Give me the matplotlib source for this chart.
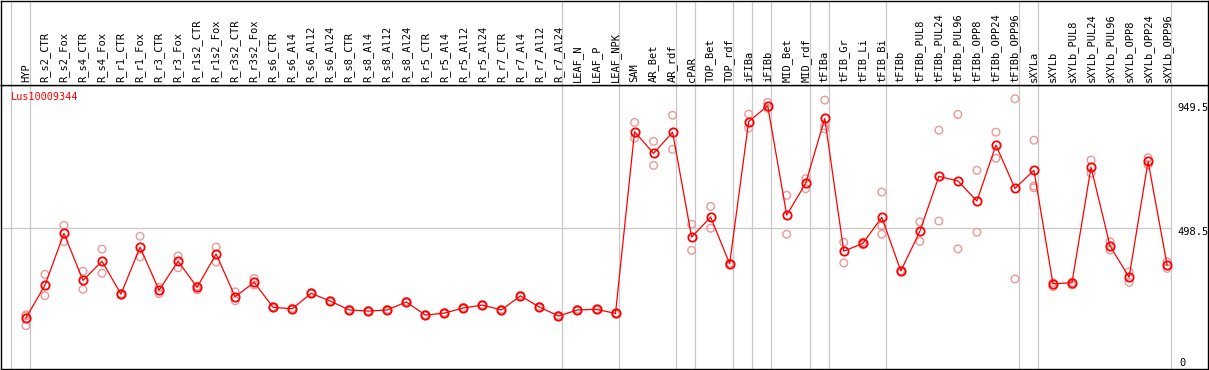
import numpy as np
import matplotlib
matplotlib.use("Agg")
import matplotlib.pyplot as plt

# column groups (a gray rule separates each group)
groups = [
    ["HYP"],
    ["R_s2_CTR", "R_s2_Fox", "R_s4_CTR", "R_s4_Fox", "R_r1_CTR", "R_r1_Fox",
     "R_r3_CTR", "R_r3_Fox", "R_r1s2_CTR", "R_r1s2_Fox", "R_r3s2_CTR", "R_r3s2_Fox",
     "R_s6_CTR", "R_s6_Al4", "R_s6_Al12", "R_s6_Al24", "R_s8_CTR", "R_s8_Al4",
     "R_s8_Al12", "R_s8_Al24", "R_r5_CTR", "R_r5_Al4", "R_r5_Al12", "R_r5_Al24",
     "R_r7_CTR", "R_r7_Al4", "R_r7_Al12", "R_r7_Al24"],
    ["LEAF_N", "LEAF_P", "LEAF_NPK"],
    ["SAM", "AR_Bet", "AR_rdf"],
    ["cPAR"],
    ["TOP_Bet", "TOP_rdf"],
    ["iFIBa"],
    ["iFIBb"],
    ["MID_Bet", "MID_rdf"],
    ["tFIBa"],
    ["tFIB_Gr", "tFIB_Li", "tFIB_Bi"],
    ["tFIBb", "tFIBb_PUL8", "tFIBb_PUL24", "tFIBb_PUL96", "tFIBb_OPP8",
     "tFIBb_OPP24", "tFIBb_OPP96"],
    ["sXYLa"],
    ["sXYLb", "sXYLb_PUL8", "sXYLb_PUL24", "sXYLb_PUL96", "sXYLb_OPP8",
     "sXYLb_OPP24", "sXYLb_OPP96"],
]

gene = "Lus10009344"

# mean expression per column
means = [185, 299, 480, 316, 383, 268, 432, 282, 383, 292, 408, 259, 309,
         222, 217, 271, 244, 213, 209, 213, 241, 195, 202, 220, 230, 213, 262,
         223, 192, 213, 215, 201,
         835, 759, 833, 467, 537, 374, 870, 925, 544, 655, 881,
         418, 445, 536, 349, 487, 679, 663, 593, 788, 637,
         700, 304, 308, 711, 436, 327, 731, 370]

# individual replicates per column
reps = [[196, 192, 158], [337, 263], [508, 451], [348, 285], [425, 341],
        [265, 270], [470, 398], [292, 270], [401, 360], [296, 283],
        [432, 380], [276, 245], [323, 300],
        [220, 224], [215, 219], [269, 273], [242, 246], [211, 215], [207, 211],
        [211, 215], [239, 243], [193, 197], [200, 204], [218, 222], [228, 232],
        [211, 215], [260, 264], [221, 225], [190, 194], [211, 215], [213, 217],
        [199, 203],
        [867, 812], [801, 717], [892, 773], [512, 421], [574, 498], [372, 376],
        [896, 847], [937, 916], [613, 477], [671, 636], [945, 855, 845],
        [449, 377], [440, 450], [624, 477, 506], [347, 350], [520, 452],
        [840, 523], [895, 426], [700, 484], [833, 742], [949.5, 321],
        [805, 645, 639], [308, 294], [310, 300], [736, 690], [451, 422],
        [346, 309], [744, 719], [381, 358]]

ymax_label = 949.5
ymid_label = 498.5

labels = [lab for g in groups for lab in g]
x = np.arange(len(labels))
starts = np.cumsum([0] + [len(g) for g in groups])

W, H = 1209, 370
fig = plt.figure(figsize=(W / 100, H / 100), dpi=100)
L, R = 1 / W, 1208 / W
ax = fig.add_axes([L, 1 / H, R - L, 284 / H])
hax = fig.add_axes([L, 285 / H, R - L, 84.5 / H])

off = 0.8  # point sits near the right of its column
xl = (-1.31, 62.15)
for a in (ax, hax):
    a.set_xlim(*xl)
    a.set_xticks([])
    a.set_yticks([])
    for s in a.spines.values():
        s.set_color("black")
        s.set_linewidth(1.0)
    for b in starts:
        a.axvline(b - off, color="#c8c8c8", lw=0.9, zorder=0)

ax.set_ylim(7, 997.6)
ax.plot([xl[0], len(labels) - off], [ymid_label, ymid_label],
        color="#c8c8c8", lw=0.9, zorder=0)

# replicates
for xi, r in zip(x, reps):
    ax.scatter([xi] * len(r), r, s=30, facecolors="none",
               edgecolors="#ea9999", linewidths=1.0, zorder=2)

# mean line
ax.plot(x, means, color="red", lw=0.9, marker="o", ms=6,
        mfc="none", mec="red", mew=1.3, zorder=3)

mono = "DejaVu Sans Mono"
for xi, lab in zip(x, labels):
    hax.text(xi, 3 / 84.5, lab, rotation=90, ha="center", va="bottom",
             fontsize=7.5, family=mono, color="black")

ax.text(10 / 1207, 1 - 12 / 284, gene, transform=ax.transAxes, color="red",
        fontsize=7.4, family=mono, va="center", ha="left")

for val, dy in [(ymax_label, -9), (ymid_label, -4), (0, 8)]:
    txt = "0" if val == 0 else f"{val}"
    ax.annotate(txt, xy=(1176 / 1207 if val else 1178 / 1207, val),
                xycoords=("axes fraction", "data"),
                xytext=(0, dy), textcoords="offset pixels",
                fontsize=7.5, family=mono, va="center", ha="left",
                annotation_clip=False)

fig.savefig("out.png", dpi=100)
